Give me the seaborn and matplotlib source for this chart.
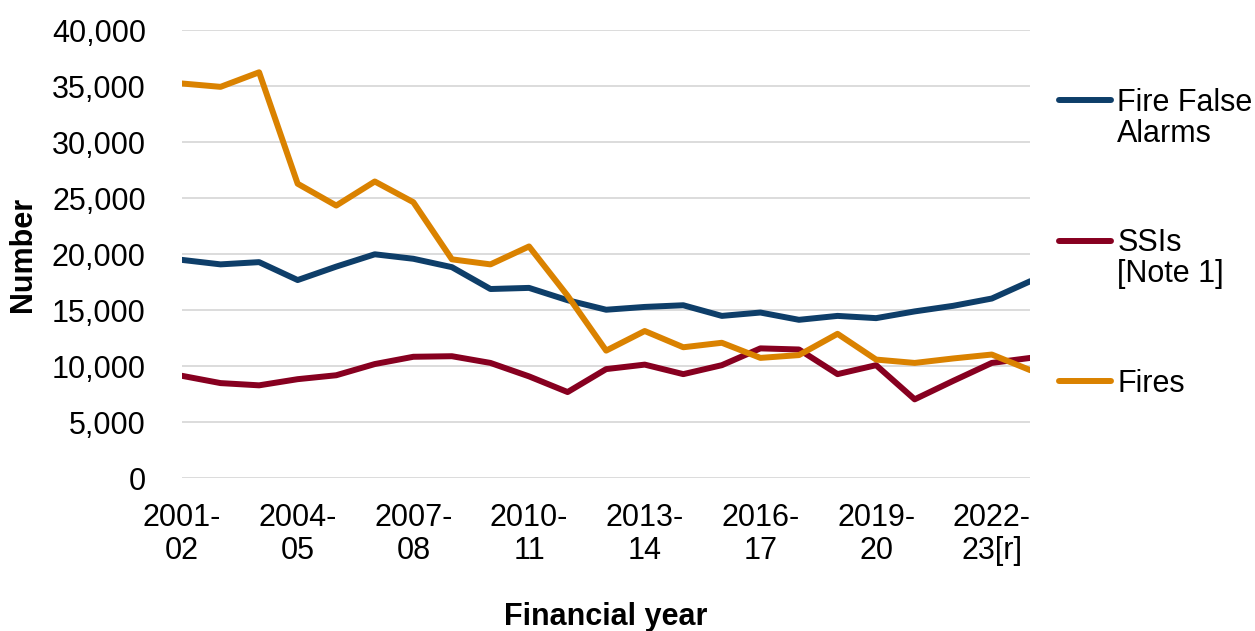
import matplotlib
matplotlib.use("Agg")
import matplotlib.pyplot as plt
import seaborn as sns
import pandas as pd

years = ["2001-02", "2002-03", "2003-04", "2004-05", "2005-06", "2006-07",
         "2007-08", "2008-09", "2009-10", "2010-11", "2011-12", "2012-13",
         "2013-14", "2014-15", "2015-16", "2016-17", "2017-18", "2018-19",
         "2019-20", "2020-21", "2021-22", "2022-23[r]", "2023-24"]

false_alarms = [19500, 19100, 19300, 17700, 18900, 20000, 19600, 18850,
                16900, 17000, 15900, 15050, 15300, 15450, 14500, 14800,
                14150, 14500, 14300, 14900, 15400, 16050, 17600]
ssis = [9150, 8500, 8300, 8850, 9200, 10200, 10850, 10900, 10300, 9100,
        7700, 9750, 10150, 9300, 10100, 11600, 11500, 9300, 10100, 7050,
        8700, 10300, 10750]
fires = [35250, 34950, 36250, 26300, 24350, 26500, 24650, 19550, 19100,
         20700, 16300, 11400, 13150, 11700, 12100, 10750, 11000, 12900,
         10600, 10300, 10700, 11050, 9650]

series_names = ["Fire False\nAlarms", "SSIs\n[Note 1]", "Fires"]
colors = ["#0e3e69", "#870020", "#da8200"]

df = pd.concat([
    pd.DataFrame({"idx": range(len(years)), "value": vals, "series": name})
    for name, vals in zip(series_names, [false_alarms, ssis, fires])
])

sns.set_style("white")
plt.rcParams["font.family"] = ["Liberation Sans", "DejaVu Sans"]
plt.rcParams["text.color"] = "black"
plt.rcParams["xtick.labelcolor"] = "black"
plt.rcParams["ytick.labelcolor"] = "black"
plt.rcParams["axes.labelcolor"] = "black"

fig = plt.figure(figsize=(12.55, 6.31), dpi=100)
ax = fig.add_axes([0.145, 0.242, 0.676, 0.710])

sns.lineplot(data=df, x="idx", y="value", hue="series", palette=colors,
             linewidth=4.3, ax=ax, legend=False)

ax.set_ylim(0, 40000)
ax.set_xlim(0, len(years) - 1)
ax.set_yticks(range(0, 40001, 5000))
ax.set_yticklabels([f"{v:,}" for v in range(0, 40001, 5000)], fontsize=22)
ax.set_xticks(range(len(years)))
ax.set_xticklabels([y.replace("-", "-\n") if i % 3 == 0 else ""
                    for i, y in enumerate(years)], fontsize=22, linespacing=1.1)
ax.tick_params(axis="x", length=7, width=1.2, color="#d9d9d9", pad=11)
ax.tick_params(axis="y", length=0, pad=26)
ax.grid(axis="y", color="#d9d9d9", linewidth=1.3)
ax.set_axisbelow(True)
for s in ax.spines.values():
    s.set_visible(False)

ax.set_xlabel("Financial year", fontsize=22, fontweight="bold", labelpad=26)
ax.set_ylabel("Number", fontsize=22, fontweight="bold", labelpad=10)

handles = ax.get_lines()[:3]
leg = fig.legend(handles, series_names, loc="upper left",
                 bbox_to_anchor=(0.844, 0.861), frameon=False, fontsize=22,
                 handlelength=1.7, handleheight=1.1, handletextpad=0.2,
                 labelspacing=2.6, borderaxespad=0, borderpad=0)
for t in leg.get_texts():
    t.set_linespacing(1.05)
# put each legend line next to the first line of its label
for col in leg._legend_handle_box.get_children():
    for item in col.get_children():
        item.align = "top"

fig.savefig("out.png", dpi=100)
